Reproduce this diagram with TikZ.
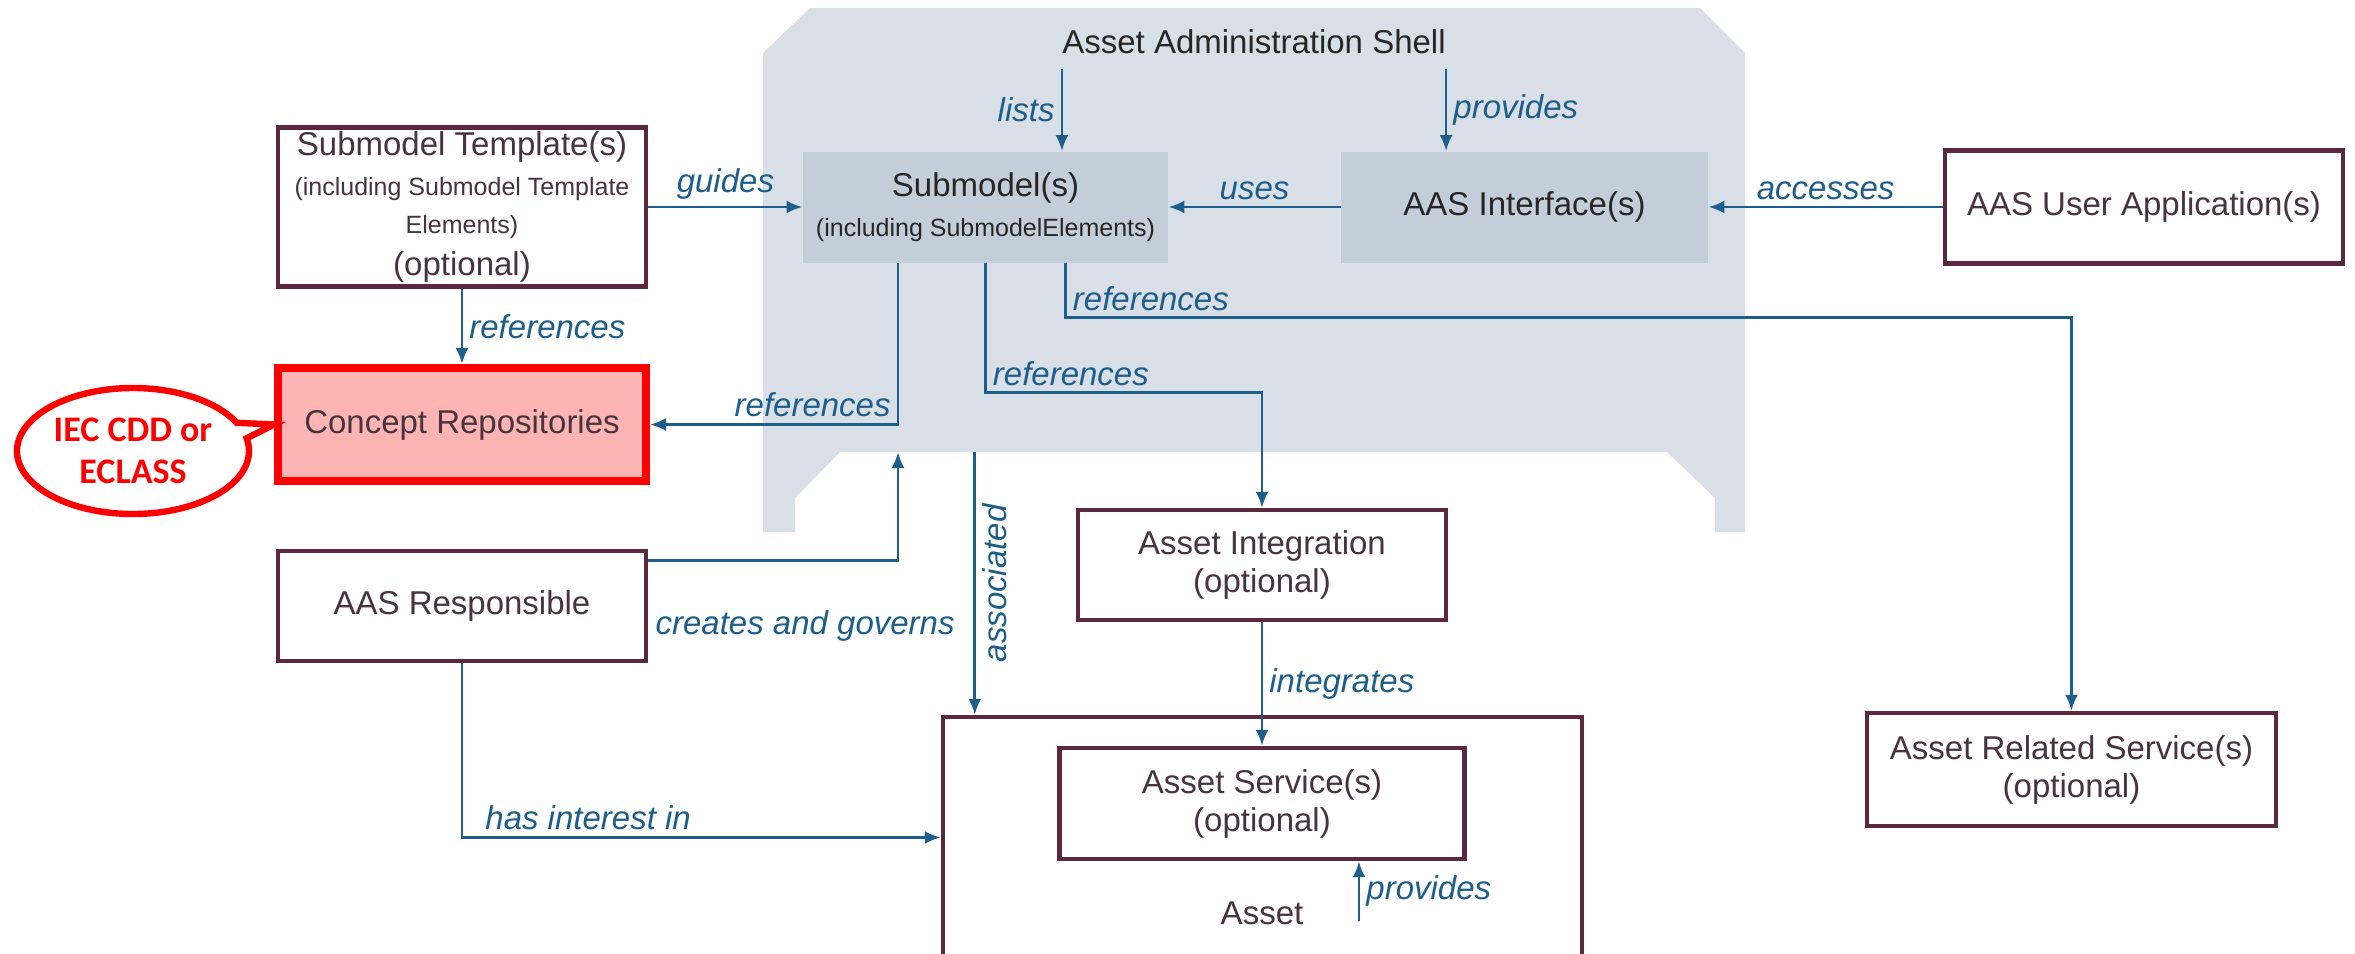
\documentclass[tikz,border=0pt]{standalone}
\usepackage{fontspec}
\setmainfont{Liberation Sans}
\newfontfamily\calloutfont{Carlito}
\usepackage{tikz}
\usetikzlibrary{arrows.meta,shapes.callouts}
\definecolor{AASArrow}{RGB}{30,94,138}
\definecolor{AASBorder}{RGB}{92,40,62}
\definecolor{AASText}{RGB}{72,52,62}
\definecolor{AASShell}{RGB}{216,223,231}
\definecolor{AASInner}{RGB}{196,206,217}
\definecolor{AASConcept}{RGB}{255,180,180}
\definecolor{AASRed}{RGB}{255,0,0}
\newcommand{\subline}[1]{{\fontsize{12.5}{15}\selectfont #1}}

\begin{document}
\begin{tikzpicture}[x=0.5pt,y=-0.5pt,
  box/.style n args={2}{draw=AASBorder,line width=2.2pt,fill=white,text=AASText,align=center,minimum width=#1,minimum height=#2,inner sep=2pt,font=\fontsize{16.5}{19}\selectfont},
  inbox/.style n args={2}{fill=AASInner,text=black!85,align=center,minimum width=#1,minimum height=#2,inner sep=2pt,font=\fontsize{16.5}{19}\selectfont},
  arr/.style={draw=AASArrow,line width=1.4pt,-{Latex[length=8pt,width=6.5pt]}},
  lbl/.style={text=AASArrow,font=\fontsize{16.5}{19}\selectfont\itshape,inner sep=3pt}]
\useasboundingbox[fill=white] (0,0) rectangle (2355,953);
% shell
\fill[AASShell] (810,8) -- (1700,8) -- (1745,53) -- (1745,532) -- (1715,532) -- (1715,498)
   -- (1667,452) -- (840,452) coordinate (shellbot) -- (795,498) -- (795,532) -- (763,532) -- (763,53) -- cycle;
\node[font=\fontsize{16.5}{19}\selectfont,text=black!85,inner sep=0pt] (aastitle) at (1254,42) {Asset Administration Shell};

\node[box={184pt}{78.5pt}] (tpl) at (462,207) {Submodel Template(s)\\[1pt]\subline{(including Submodel Template}\\\subline{Elements)}\\[2pt](optional)};
\node[box={184pt}{56.5pt},fill=AASConcept,draw=AASRed,line width=4pt] (crepo) at (462,424.5) {Concept Repositories};
\node[box={184pt}{55pt}] (resp) at (462,606) {AAS Responsible};
\node[inbox={182.5pt}{55.5pt}] (sm) at (985.5,207) {Submodel(s)\\[1pt]\subline{(including SubmodelElements)}};
\node[inbox={183.5pt}{55.5pt}] (aasif) at (1524.5,207) {AAS Interface(s)};
\node[box={199pt}{56.5pt}] (aasua) at (2144,207) {AAS User Application(s)};
\node[box={184pt}{55pt}] (aint) at (1262,565) {Asset Integration\\(optional)};
\node[box={319.5pt}{120.5pt}] (asset) at (1262.5,837.5) {};
\node[box={202.5pt}{55.5pt}] (asvc) at (1262,803.5) {Asset Service(s)\\(optional)};
\node[text=AASText,font=\fontsize{16.5}{19}\selectfont] (assettxt) at (1262,913) {Asset};
\node[box={204.5pt}{56.5pt}] (arsvc) at (2071.5,769.5) {Asset Related Service(s)\\(optional)};

\node[ellipse callout,draw=AASRed,line width=3.2pt,fill=white,minimum width=116pt,minimum height=63pt,
   callout absolute pointer={(crepo.west)},text=AASRed,align=center,inner sep=0pt,
   font=\calloutfont\bfseries\fontsize{18}{21}\selectfont] (iec) at (133,451) {IEC CDD or\\ECLASS};

\draw[arr] ([yshift=-7pt]aastitle.south west) -- (aastitle.south west |- sm.north) node[midway,left,lbl] {lists};
\draw[arr] ([yshift=-7pt]aastitle.south east) -- (aastitle.south east |- aasif.north) node[midway,right,lbl] {provides};
\draw[arr] (tpl.east) -- (sm.west) node[midway,above,lbl] {guides};
\draw[arr] (aasif.west) -- (sm.east) node[midway,above,lbl] {uses};
\draw[arr] (aasua.west) -- (aasif.east) node[midway,above,lbl] {accesses};
\draw[arr] (tpl.south) -- (crepo.north) node[midway,right,lbl] {references};

\coordinate (colref) at ([xshift=-43.75pt]sm.south);
\coordinate (colsvc) at ([xshift=40pt]sm.south);
\draw[arr] (colref) |- (crepo.east) node[pos=0.5,above left,lbl] {references};
\draw[arr] (sm.south) |- ([yshift=57.5pt]aint.north) node[pos=0.5,above right,lbl] {references} -- (aint.north);
\draw[arr] (colsvc) |- ([yshift=196.5pt]arsvc.north) node[pos=0.5,above right,lbl] {references} -- (arsvc.north);

\draw[arr] ([yshift=-6pt]resp.north east) -| (colref |- shellbot) node[pos=0,anchor=west,yshift=-32.5pt,lbl] {creates and governs};
\coordinate (assoc) at ([xshift=17pt]asset.north west);
\draw[arr] (assoc |- shellbot) -- (assoc) node[midway,rotate=90,anchor=north,lbl] {associated};
\draw[arr] (resp.south) |- (asset.west) node[pos=0.5,above right,xshift=8pt,lbl] {has interest in};
\draw[arr] (aint.south) -- (asvc.north) node[midway,right,lbl] {integrates};
\coordinate (provsrc) at ([xshift=48.5pt,yshift=-30pt]asvc.south);
\draw[arr] (provsrc) -- (provsrc |- asvc.south) node[midway,right,lbl] {provides};
\end{tikzpicture}
\end{document}
